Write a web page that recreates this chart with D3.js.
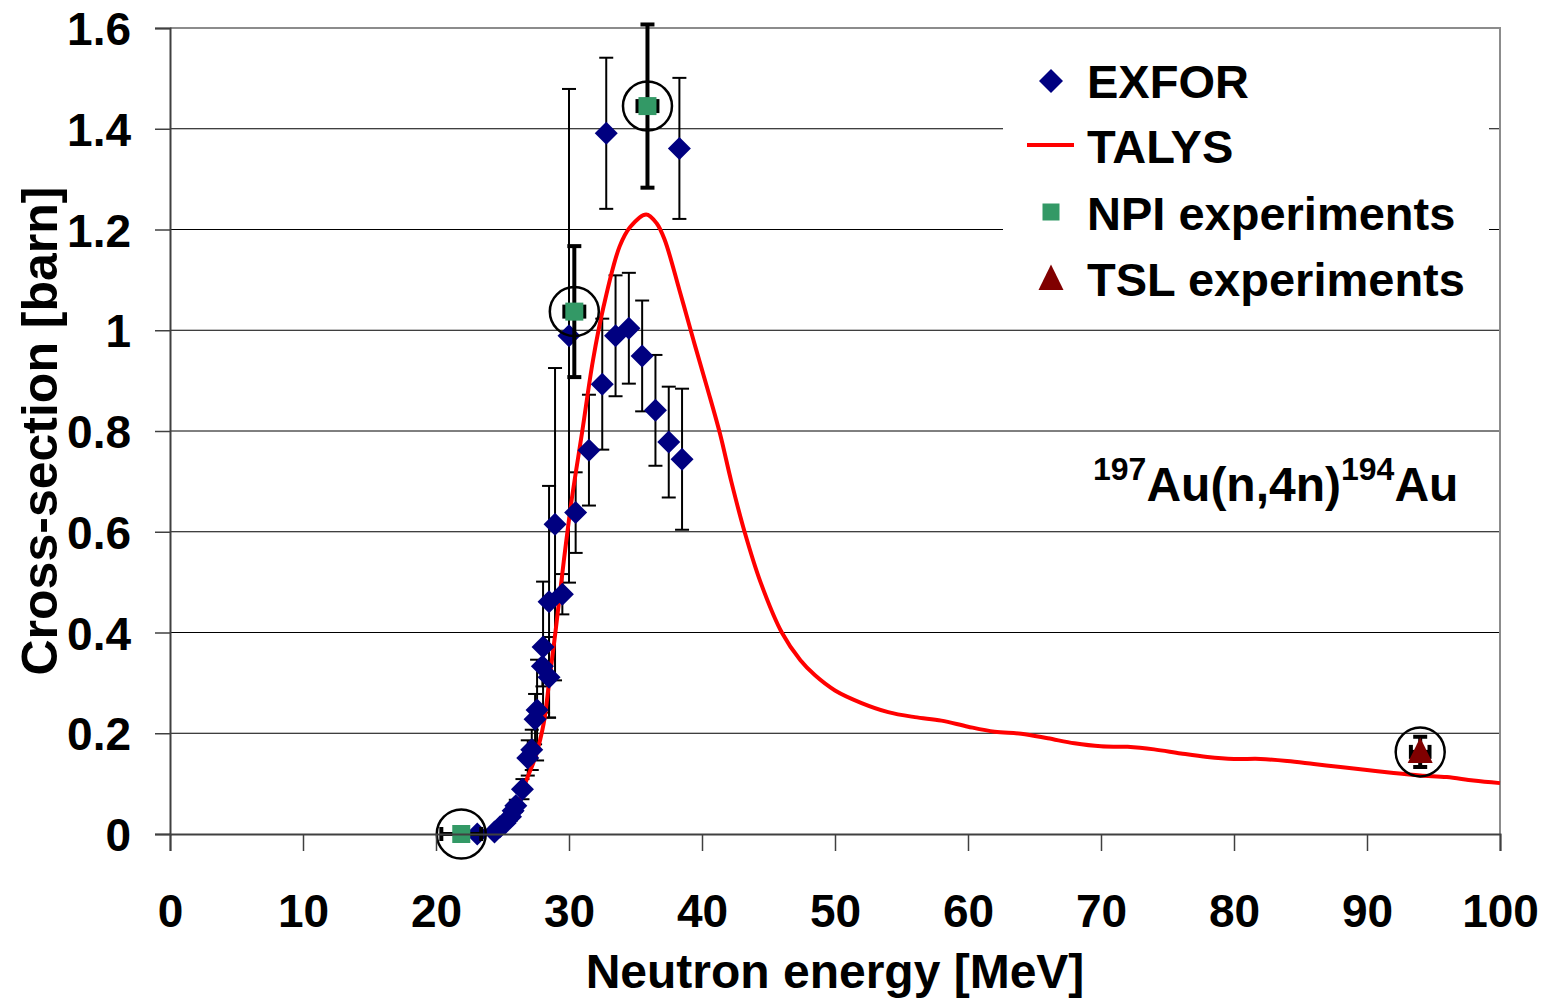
<!DOCTYPE html>
<html>
<head>
<meta charset="utf-8">
<script src="https://cdn.jsdelivr.net/npm/d3@7"></script>
<style>
  html, body { margin: 0; padding: 0; background: #fff; }
  svg { display: block; font-family: "Liberation Sans", Arial, sans-serif; font-weight: bold; }
</style>
</head>
<body>
<svg id="chart" width="1560" height="999"></svg>
<script>
// Axis ticks
const xTicks = [0, 10, 20, 30, 40, 50, 60, 70, 80, 90, 100];
const yTicks = [0, 0.2, 0.4, 0.6, 0.8, 1, 1.2, 1.4, 1.6];
const yTickLabels = ["0", "0.2", "0.4", "0.6", "0.8", "1", "1.2", "1.4", "1.6"];

// EXFOR measurements: energy [MeV], cross-section [b], uncertainty [b]
const exforE   = [23.1, 24.4, 24.8, 25.2, 25.6, 25.8, 26.0, 26.5, 26.9, 27.2, 27.45, 27.6, 28.0, 28.05, 28.5, 28.5, 29.5, 28.95, 30.0, 30.5, 31.5, 32.5, 32.8, 33.5, 34.5, 35.5, 36.5, 37.5, 38.5, 38.3];
const exforXS  = [0.0, 0.004, 0.014, 0.022, 0.034, 0.046, 0.056, 0.089, 0.151, 0.167, 0.228, 0.246, 0.333, 0.371, 0.311, 0.461, 0.476, 0.615, 0.989, 0.638, 0.762, 0.893, 1.391, 0.989, 1.004, 0.949, 0.841, 0.778, 0.744, 1.361];
const exforErr = [0.0, 0.003, 0.005, 0.006, 0.008, 0.01, 0.012, 0.02, 0.035, 0.04, 0.05, 0.1, 0.04, 0.13, 0.08, 0.23, 0.04, 0.31, 0.49, 0.08, 0.11, 0.13, 0.15, 0.12, 0.11, 0.11, 0.11, 0.11, 0.14, 0.14];

// TALYS calculation
const talysE  = [23.5, 24, 25, 26, 26.8, 27.5, 28.1, 28.5, 29, 29.6, 30.2, 31, 31.8, 32.6, 33.8, 34.6, 35.8, 36.6, 37.2, 38.3, 39.35, 40.4, 41.35, 42.2, 43.2, 44.4, 46, 47.4, 48.5, 50, 52, 54, 56, 58, 60, 62, 64, 66, 68, 70, 72, 74, 76, 78, 80, 82, 84, 86, 88, 90, 92, 94, 96, 98, 100];
const talysXS = [0, 0.003, 0.015, 0.05, 0.107, 0.155, 0.22, 0.3, 0.405, 0.54, 0.663, 0.8, 0.94, 1.047, 1.166, 1.205, 1.23, 1.212, 1.179, 1.08, 0.981, 0.885, 0.795, 0.7, 0.6, 0.5, 0.4, 0.345, 0.315, 0.285, 0.26, 0.242, 0.232, 0.225, 0.213, 0.203, 0.199, 0.19, 0.18, 0.174, 0.173, 0.168, 0.16, 0.153, 0.149, 0.149, 0.145, 0.139, 0.133, 0.127, 0.121, 0.116, 0.113, 0.106, 0.101];

// NPI experiments: energy, energy spread, cross-section, uncertainty
const npiE    = [21.9, 30.4, 35.9];
const npiEErr = [1.5, 0.75, 0.75];
const npiXS   = [0.0, 1.037, 1.445];
const npiErr  = [0.0, 0.13, 0.162];

// TSL experiment
const tslE    = [94.0];
const tslEErr = [0.7];
const tslXS   = [0.163];
const tslErr  = [0.03];

const legendLabels = ["EXFOR", "TALYS", "NPI experiments", "TSL experiments"];

const svg = d3.select("#chart");
const W = 1560, H = 999;
const plot = { left: 170, right: 1500, top: 28, bottom: 834 };

const x = d3.scaleLinear().domain([0, 100]).range([plot.left, plot.right]);
const y = d3.scaleLinear().domain([0, 1.6]).range([plot.bottom, plot.top]);

svg.append("rect").attr("width", W).attr("height", H).attr("fill", "#fff");

// Horizontal gridlines
svg.append("g").selectAll("line")
  .data(yTicks.filter(d => d > 0 && d < 1.6))
  .join("line")
  .attr("x1", plot.left).attr("x2", plot.right)
  .attr("y1", d => y(d)).attr("y2", d => y(d))
  .attr("stroke", "#000").attr("stroke-width", 1);

// Plot area border (top and right)
svg.append("path")
  .attr("d", `M${plot.left},${y(1.6)}H${plot.right}V${plot.bottom}`)
  .attr("fill", "none").attr("stroke", "#8c8c8c").attr("stroke-width", 2);

// Legend background
const legendX = 1003, legendW = 486;
svg.append("rect")
  .attr("x", legendX).attr("y", 40).attr("width", legendW).attr("height", 270)
  .attr("fill", "#fff");

const diamond = r => `M0,${-r}L${r},0L0,${r}L${-r},0Z`;
const triangle = s => `M0,${-s * 0.58}L${s * 0.5},${s * 0.44}L${-s * 0.5},${s * 0.44}Z`;

// Error bar helper
function errorBars(g, data, opts) {
  const cap = opts.cap, sw = opts.width;
  const eg = g.append("g").attr("stroke", "#000").attr("stroke-width", sw);
  data.forEach(d => {
    if (d.err > 0) {
      eg.append("line").attr("x1", x(d.e)).attr("x2", x(d.e)).attr("y1", y(d.v + d.err)).attr("y2", y(d.v - d.err));
      eg.append("line").attr("x1", x(d.e) - cap).attr("x2", x(d.e) + cap).attr("y1", y(d.v + d.err)).attr("y2", y(d.v + d.err));
      eg.append("line").attr("x1", x(d.e) - cap).attr("x2", x(d.e) + cap).attr("y1", y(d.v - d.err)).attr("y2", y(d.v - d.err));
    }
    if (d.eErr > 0) {
      eg.append("line").attr("x1", x(d.e - d.eErr)).attr("x2", x(d.e + d.eErr)).attr("y1", y(d.v)).attr("y2", y(d.v));
      eg.append("line").attr("x1", x(d.e - d.eErr)).attr("x2", x(d.e - d.eErr)).attr("y1", y(d.v) - cap).attr("y2", y(d.v) + cap);
      eg.append("line").attr("x1", x(d.e + d.eErr)).attr("x2", x(d.e + d.eErr)).attr("y1", y(d.v) - cap).attr("y2", y(d.v) + cap);
    }
  });
}

const exfor = exforE.map((e, i) => ({ e, v: exforXS[i], err: exforErr[i], eErr: 0 }));
const npi = npiE.map((e, i) => ({ e, v: npiXS[i], err: npiErr[i], eErr: npiEErr[i] }));
const tsl = tslE.map((e, i) => ({ e, v: tslXS[i], err: tslErr[i], eErr: tslEErr[i] }));

const dataG = svg.append("g");
errorBars(dataG, exfor, { cap: 7, width: 2 });

// TALYS curve
const line = d3.line().x(d => x(d[0])).y(d => y(d[1])).curve(d3.curveCatmullRom.alpha(0.5));
dataG.append("path")
  .datum(talysE.map((e, i) => [e, talysXS[i]]))
  .attr("d", line)
  .attr("fill", "none").attr("stroke", "#ff0000").attr("stroke-width", 4)
  .attr("stroke-linejoin", "round");

// EXFOR diamonds
dataG.append("g").selectAll("path").data(exfor).join("path")
  .attr("transform", d => `translate(${x(d.e)},${y(d.v)})`)
  .attr("d", diamond(11.5)).attr("fill", "#000080");

// NPI and TSL points
errorBars(dataG, npi, { cap: 7, width: 4 });
dataG.append("g").selectAll("rect").data(npi).join("rect")
  .attr("x", d => x(d.e) - 9).attr("y", d => y(d.v) - 9)
  .attr("width", 18).attr("height", 18).attr("fill", "#339966");

errorBars(dataG, tsl, { cap: 7, width: 4 });
dataG.append("g").selectAll("path").data(tsl).join("path")
  .attr("transform", d => `translate(${x(d.e)},${y(d.v)})`)
  .attr("d", triangle(25)).attr("fill", "#800000");

// Circles highlighting the own measurements
dataG.append("g").selectAll("circle").data(npi.concat(tsl)).join("circle")
  .attr("cx", d => x(d.e)).attr("cy", d => y(d.v))
  .attr("r", 24.5).attr("fill", "none").attr("stroke", "#000").attr("stroke-width", 2.5);

// Axes
const xAxis = d3.axisBottom(x).tickValues(xTicks).tickSize(17).tickPadding(42).tickFormat(d3.format("d"));
const gx = svg.append("g").attr("transform", `translate(0,${plot.bottom})`).call(xAxis);
gx.select(".domain").attr("stroke", "#404040").attr("stroke-width", 2);
gx.selectAll(".tick line").attr("stroke", "#404040").attr("stroke-width", 1.5);
gx.selectAll(".tick text").attr("font-size", 46).attr("fill", "#000").attr("dy", "0");

const yAxis = d3.axisLeft(y).tickValues(yTicks).tickSize(15).tickPadding(24)
  .tickFormat((d, i) => yTickLabels[i]);
const gy = svg.append("g").attr("transform", `translate(${plot.left},0)`).call(yAxis);
gy.select(".domain").attr("stroke", "#404040").attr("stroke-width", 2);
gy.selectAll(".tick line").attr("stroke", "#404040").attr("stroke-width", 1.5);
gy.selectAll(".tick text").attr("font-size", 46).attr("fill", "#000").attr("dy", "0.36em");
svg.selectAll(".tick text").attr("font-family", "'Liberation Sans', Arial, sans-serif").attr("font-weight", "bold");
gx.selectAll(".tick text").attr("y", 93);

// Axis titles
svg.append("text")
  .attr("x", 835).attr("y", 988).attr("text-anchor", "middle")
  .attr("font-size", 48).text("Neutron energy [MeV]");
svg.append("text")
  .attr("transform", "translate(57,431) rotate(-90)").attr("text-anchor", "middle")
  .attr("font-size", 50).text("Cross-section [barn]");

// Reaction label
const rl = svg.append("text").attr("x", 1093).attr("y", 501).attr("font-size", 48);
rl.append("tspan").attr("font-size", 32).attr("dy", -21).text("197");
rl.append("tspan").attr("dy", 21).text("Au(n,4n)");
rl.append("tspan").attr("font-size", 32).attr("dy", -21).text("194");
rl.append("tspan").attr("dy", 21).text("Au");

// Legend
const lg = svg.append("g");
const rows = [98, 163, 230, 296];
const symX = 1051;
lg.append("path").attr("transform", `translate(${symX},${rows[0] - 17})`).attr("d", diamond(12)).attr("fill", "#000080");
lg.append("line").attr("x1", 1027).attr("x2", 1074).attr("y1", rows[1] - 18).attr("y2", rows[1] - 18)
  .attr("stroke", "#ff0000").attr("stroke-width", 4);
lg.append("rect").attr("x", symX - 8.5).attr("y", rows[2] - 18 - 8.5).attr("width", 17).attr("height", 17).attr("fill", "#339966");
lg.append("path").attr("transform", `translate(${symX},${rows[3] - 17})`).attr("d", triangle(25)).attr("fill", "#800000");
lg.selectAll("text").data(legendLabels).join("text")
  .attr("x", 1087).attr("y", (d, i) => rows[i]).attr("font-size", 47).text(d => d);
</script>
</body>
</html>
